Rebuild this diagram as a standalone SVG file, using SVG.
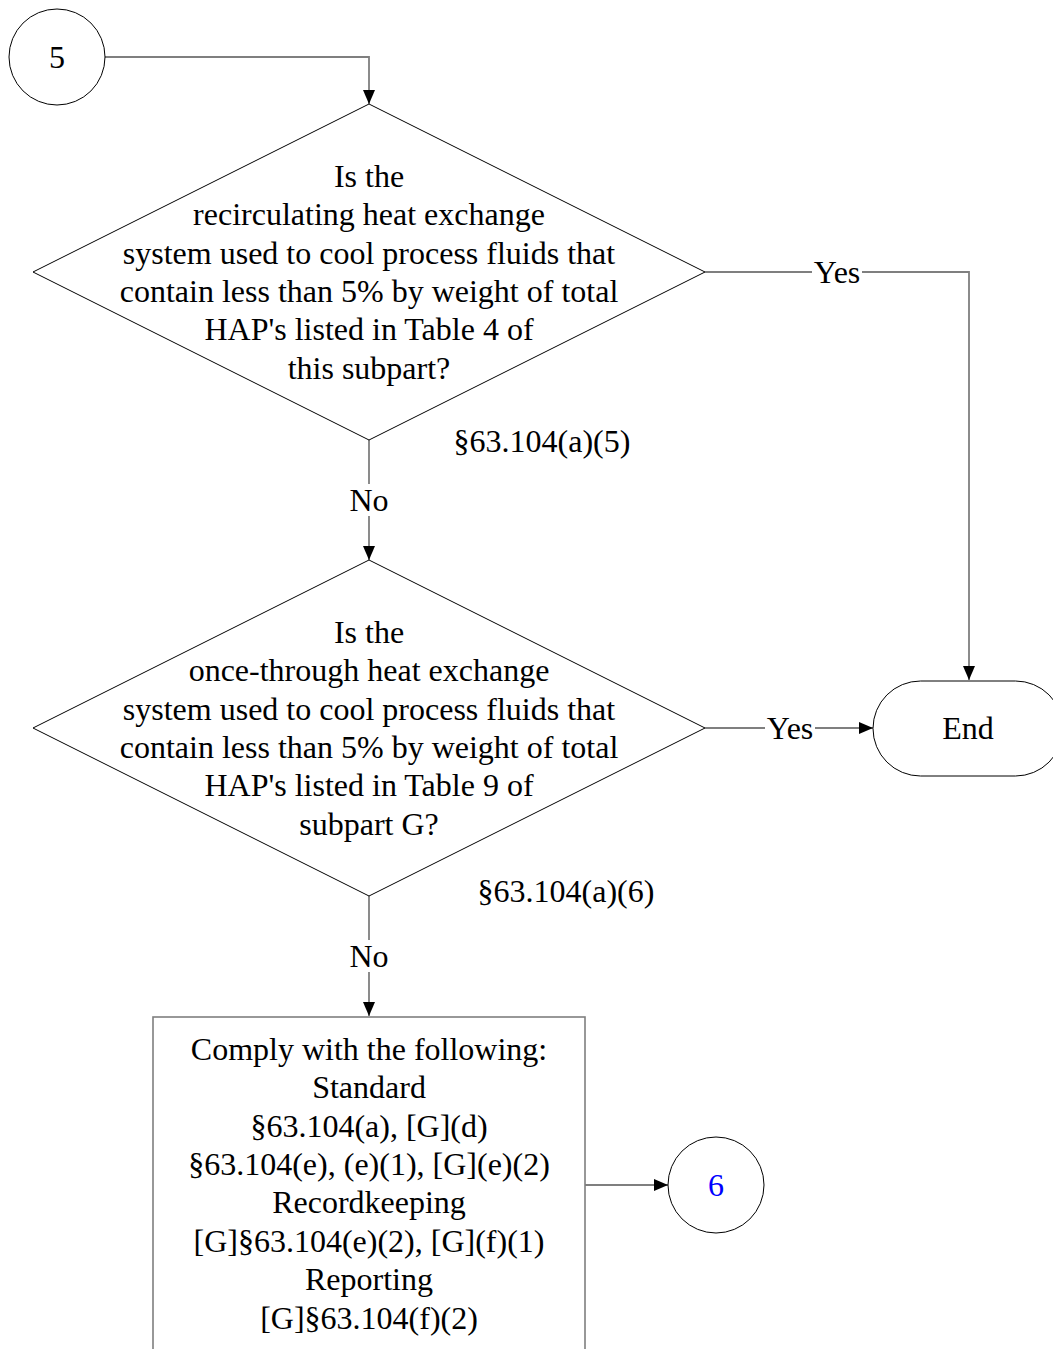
<svg xmlns="http://www.w3.org/2000/svg" width="1053" height="1349" viewBox="0 0 1053 1349">
<defs>
<style>
.shape{fill:#fff;stroke:#000;stroke-width:1}
.box{fill:#fff;stroke:#7f7f7f;stroke-width:1.6}
.conn{fill:none;stroke:#7f7f7f;stroke-width:1.8}
text{font-family:"Liberation Serif","Times New Roman",serif;font-size:32px;fill:#000;text-anchor:middle}
.lbl{fill:#fff}
</style>
<marker id="arrB" viewBox="0 0 14 12" refX="14" refY="6" markerWidth="14" markerHeight="12" markerUnits="userSpaceOnUse" orient="auto"><path d="M0,0 L14,6 L0,12 z" fill="#000"/></marker>
</defs>
<g id="connectors">
<path class="conn" d="M105,57 H369 V104" marker-end="url(#arrB)"/>
<path class="conn" d="M705,272 H969 V680" marker-end="url(#arrB)"/>
<path class="conn" d="M369,440 V560" marker-end="url(#arrB)"/>
<path class="conn" d="M705,728 H873" marker-end="url(#arrB)"/>
<path class="conn" d="M369,896 V1016" marker-end="url(#arrB)"/>
<path class="conn" d="M585,1185 H668" marker-end="url(#arrB)"/>
<rect class="lbl" x="812" y="257" width="50" height="32"/>
<text x="837" y="283">Yes</text>
<rect class="lbl" x="765" y="713" width="50" height="32"/>
<text x="790" y="739">Yes</text>
<rect class="lbl" x="346" y="484" width="46" height="32"/>
<text x="369" y="511">No</text>
<rect class="lbl" x="346" y="940" width="46" height="32"/>
<text x="369" y="967">No</text>
</g>
<g id="node5">
<circle class="shape" cx="57" cy="57" r="48"/>
<text x="57" y="68">5</text>
</g>
<g id="decision1">
<polygon class="shape" points="369,104 705,272 369,440 33,272"/>
<text x="369" y="187">Is the</text>
<text x="369" y="225">recirculating heat exchange</text>
<text x="369" y="264">system used to cool process fluids that</text>
<text x="369" y="302">contain less than 5% by weight of total</text>
<text x="369" y="340">HAP's listed in Table 4 of</text>
<text x="369" y="379">this subpart?</text>
<text x="542" y="452">§63.104(a)(5)</text>
</g>
<g id="decision2">
<polygon class="shape" points="369,560 705,728 369,896 33,728"/>
<text x="369" y="643">Is the</text>
<text x="369" y="681">once-through heat exchange</text>
<text x="369" y="720">system used to cool process fluids that</text>
<text x="369" y="758">contain less than 5% by weight of total</text>
<text x="369" y="796">HAP's listed in Table 9 of</text>
<text x="369" y="835">subpart G?</text>
<text x="566" y="902">§63.104(a)(6)</text>
</g>
<g id="end">
<rect class="shape" x="873" y="681" width="190" height="95" rx="47.5" ry="47.5"/>
<text x="968" y="739">End</text>
</g>
<g id="comply">
<rect class="box" x="153" y="1017" width="432" height="360"/>
<text x="369" y="1060">Comply with the following:</text>
<text x="369" y="1098">Standard</text>
<text x="369" y="1137">§63.104(a), [G](d)</text>
<text x="369" y="1175">§63.104(e), (e)(1), [G](e)(2)</text>
<text x="369" y="1213">Recordkeeping</text>
<text x="369" y="1252">[G]§63.104(e)(2), [G](f)(1)</text>
<text x="369" y="1290">Reporting</text>
<text x="369" y="1329">[G]§63.104(f)(2)</text>
</g>
<g id="node6">
<circle class="shape" cx="716" cy="1185" r="48"/>
<text x="716" y="1196" style="fill:#0000ff">6</text>
</g>
</svg>
